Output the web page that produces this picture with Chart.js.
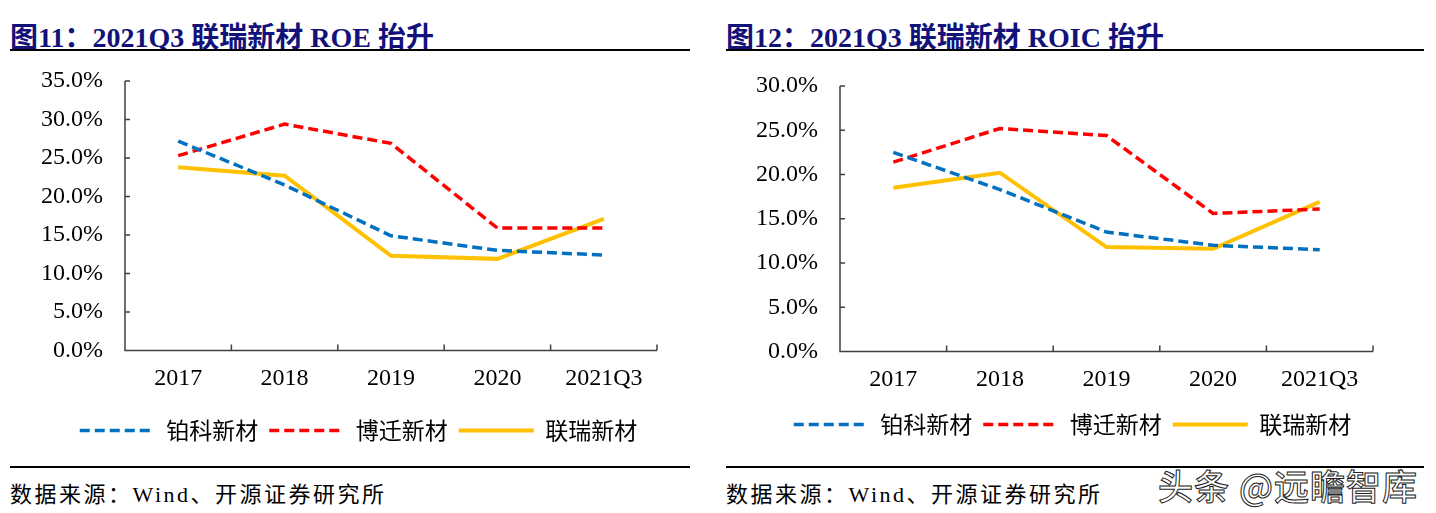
<!DOCTYPE html>
<html lang="zh">
<head>
<meta charset="utf-8">
<title>联瑞新材 ROE / ROIC</title>
<script src="https://cdn.jsdelivr.net/npm/chart.js@4.4.0/dist/chart.umd.min.js"></script>
<style>
  body { margin: 0; width: 1436px; height: 513px; background: #fff; position: relative; overflow: hidden; }
  .title { position: absolute; top: 15px; font: bold 28px "Liberation Serif", "Noto Sans CJK SC", serif; color: #12127a; white-space: nowrap; }
  .rule { position: absolute; height: 2px; background: #000; }
  .src { position: absolute; top: 476px; font: 22px "Liberation Serif", "Noto Sans CJK SC", serif; letter-spacing: 2.5px; color: #000; white-space: nowrap; }
  .box { position: absolute; top: 60px; }
  .mark { position: absolute; left: 1158px; top: 459px; font: 500 35px "Noto Sans CJK SC", sans-serif; color: #fff;
          -webkit-text-stroke: 1px #222; letter-spacing: 1px; white-space: nowrap; }
</style>
</head>
<body>
<div class="title" style="left:10px">图11：2021Q3 联瑞新材 ROE 抬升</div>
<div class="rule" style="left:10px; width:680px; top:49px"></div>
<div class="box" style="left:0; width:690px; height:392px"><canvas id="roe"></canvas></div>
<div class="rule" style="left:10px; width:680px; top:466px"></div>
<div class="src" style="left:10px">数据来源：Wind、开源证券研究所</div>

<div class="title" style="left:726px">图12：2021Q3 联瑞新材 ROIC 抬升</div>
<div class="rule" style="left:726px; width:698px; top:49px"></div>
<div class="box" style="left:720px; width:716px; height:386px"><canvas id="roic"></canvas></div>
<div class="rule" style="left:726px; width:698px; top:466px"></div>
<div class="src" style="left:726px">数据来源：Wind、开源证券研究所</div>

<div class="mark">头条 @远瞻智库</div>

<script>
var years = ['2017', '2018', '2019', '2020', '2021Q3'];
var names = ['铂科新材', '博迁新材', '联瑞新材'];

// ROE (%)
var roeBoke   = [27.2, 21.5, 14.9, 13.0, 12.4];
var roeBoqian = [25.3, 29.4, 26.9, 15.9, 15.9];
var roeLianrui = [23.8, 22.7, 12.3, 11.9, 17.1];

// ROIC (%)
var roicBoke   = [22.5, 18.3, 13.5, 12.0, 11.5];
var roicBoqian = [21.4, 25.2, 24.4, 15.6, 16.1];
var roicLianrui = [18.5, 20.2, 11.8, 11.6, 16.9];

var roeTicks = [0, 5, 10, 15, 20, 25, 30, 35];
var roicTicks = [0, 5, 10, 15, 20, 25, 30];

var axisColor = '#404040';

// small tick marks pointing into the plot, like the source charts
var innerTicks = {
  id: 'innerTicks',
  afterDraw: function(chart) {
    var ctx = chart.ctx, a = chart.chartArea;
    var x = chart.scales.x, y = chart.scales.y;
    ctx.save();
    ctx.strokeStyle = axisColor;
    ctx.lineWidth = 1.5;
    ctx.beginPath();
    ctx.moveTo(a.left, a.top);
    ctx.lineTo(a.left, a.bottom);
    ctx.lineTo(a.right, a.bottom);
    y.ticks.forEach(function(t) {
      var py = y.getPixelForValue(t.value);
      ctx.moveTo(a.left, py);
      ctx.lineTo(a.left + 5, py);
    });
    var n = x.ticks.length;
    for (var i = 1; i <= n; i++) {
      var px = a.left + (a.right - a.left) * i / n;
      ctx.moveTo(px, a.bottom);
      ctx.lineTo(px, a.bottom - 6);
    }
    ctx.stroke();
    ctx.restore();
  }
};

// legend is centred under the whole canvas; nudge it sideways
var legendShift = {
  id: 'legendShift',
  afterLayout: function(chart, args, opts) {
    var lg = chart.legend;
    if (lg && opts.dx) { lg.left += opts.dx; lg.right += opts.dx; }
  }
};

function legendLabels(chart) {
  var items = Chart.defaults.plugins.legend.labels.generateLabels(chart);
  items.forEach(function(it) {
    var ds = chart.data.datasets[it.datasetIndex];
    it.lineDash = ds.borderDash || [];
    it.lineWidth = ds.borderWidth;
    it.strokeStyle = ds.borderColor;
  });
  return items;
}

function makeChart(id, s1, s2, s3, ticks, max, pad) {
  var sets = [
    { label: names[0], data: s1, borderColor: '#0070C0', borderDash: [10, 5], borderWidth: 3.5 },
    { label: names[1], data: s2, borderColor: '#FF0000', borderDash: [10, 5], borderWidth: 3.5 },
    { label: names[2], data: s3, borderColor: '#FFC000', borderWidth: 4 }
  ];
  sets.forEach(function(d) {
    d.backgroundColor = d.borderColor;
    d.pointRadius = 0;
    d.tension = 0;
    d.fill = false;
  });
  return new Chart(document.getElementById(id), {
    type: 'line',
    data: { labels: years, datasets: sets },
    options: {
      responsive: true,
      maintainAspectRatio: false,
      animation: false,
      layout: { padding: { left: 0, right: pad.right, top: pad.top, bottom: 0 } },
      plugins: {
        tooltip: { enabled: false },
        legendShift: { dx: pad.dx },
        legend: {
          position: 'bottom',
          labels: {
            usePointStyle: true,
            pointStyle: 'line',
            pointStyleWidth: 75,
            padding: 11,
            color: '#000',
            font: { family: '"Noto Sans CJK SC", sans-serif', size: 23 },
            generateLabels: legendLabels
          }
        }
      },
      scales: {
        x: {
          offset: true,
          grid: { display: false, drawTicks: false },
          border: { display: false },
          ticks: { color: '#000', padding: 14, font: { family: '"Liberation Serif", serif', size: 24 } },
          afterFit: function(s) { s.height = pad.xh; }
        },
        y: {
          min: 0,
          max: max,
          afterBuildTicks: function(s) { s.ticks = ticks.map(function(v) { return { value: v }; }); },
          grid: { display: false, drawTicks: false },
          border: { display: false },
          ticks: {
            color: '#000',
            padding: 22,
            font: { family: '"Liberation Serif", serif', size: 24 },
            callback: function(v) { return v.toFixed(1) + '%'; }
          },
          afterFit: function(s) { s.width = pad.yw; s.paddingTop = 0; s.paddingBottom = 0; }
        }
      }
    },
    plugins: [innerTicks, legendShift]
  });
}

makeChart('roe', roeBoke, roeBoqian, roeLianrui, roeTicks, 35,
  { right: 33, top: 21, yw: 125, xh: 57.5, dx: 30 });
makeChart('roic', roicBoke, roicBoqian, roicLianrui, roicTicks, 30,
  { right: 63, top: 26, yw: 120, xh: 50.5, dx: 26 });
</script>
</body>
</html>
